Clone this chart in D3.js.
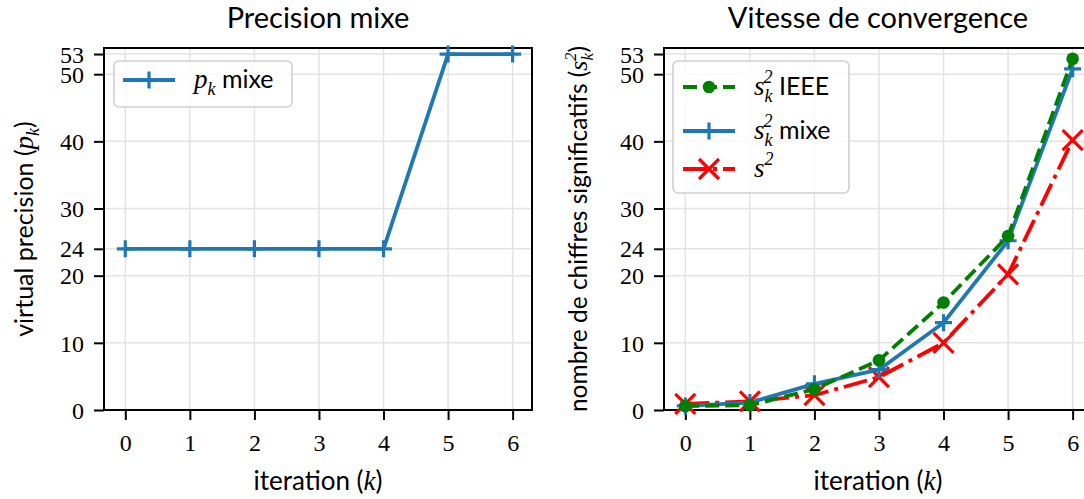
<!DOCTYPE html>
<html>
<head>
<meta charset="utf-8">
<script src="https://cdn.jsdelivr.net/npm/d3@7"></script>
<style>
  body { margin: 0; background: #fff; }
  svg { display: block; }
  .tick text { font-family: "Liberation Serif", "DejaVu Serif", serif; font-size: 24px; fill: #000; }
  .sans { font-family: "Lato", "Open Sans", sans-serif; }
  .math { font-family: "Liberation Serif", "DejaVu Serif", serif; font-style: italic; }
</style>
</head>
<body>
<svg id="chart" width="1084" height="499"></svg>
<script>
// data
var iterations = [0, 1, 2, 3, 4, 5, 6];
var pkMixe = [24, 24, 24, 24, 24, 53, 53];
var s2IEEE = [0.6, 0.7, 3.1, 7.4, 16.0, 25.9, 52.3];
var s2Mixe = [0.6, 1.1, 3.9, 6.0, 13.0, 25.2, 50.8];
var s2Ref = [0.9, 1.3, 2.2, 4.9, 10.0, 20.2, 40.2];
var yTickValues = [0, 10, 20, 24, 30, 40, 50, 53];

var svg = d3.select("#chart");

var top_ = 48, bottom = 410;
var panelW = 428;
var lw = 3.8;

var y = d3.scaleLinear().domain([0, 53.9]).range([bottom, top_]);

function plusPath(s) { return "M" + (-s) + ",0H" + s + "M0," + (-s) + "V" + s; }
function crossPath(s) { return "M" + (-s) + "," + (-s) + "L" + s + "," + s + "M" + (-s) + "," + s + "L" + s + "," + (-s); }

function drawMarker(g, kind, color) {
  if (kind === "plus") {
    g.append("path").attr("d", plusPath(8.5)).attr("stroke", color).attr("stroke-width", 3.2).attr("fill", "none");
  } else if (kind === "cross") {
    g.append("path").attr("d", crossPath(10)).attr("stroke", color).attr("stroke-width", 3.2).attr("fill", "none");
  } else if (kind === "circle") {
    g.append("circle").attr("r", 6.3).attr("fill", color);
  }
}

function makePanel(left, title) {
  var x = d3.scaleLinear().domain([-0.33, 6.3]).range([left, left + panelW]);
  var g = svg.append("g");

  // grid
  g.append("g").selectAll("line").data(iterations).enter().append("line")
    .attr("x1", function(d) { return x(d); }).attr("x2", function(d) { return x(d); })
    .attr("y1", top_).attr("y2", bottom)
    .attr("stroke", "#e3e3e3").attr("stroke-width", 1.5);
  g.append("g").selectAll("line").data(yTickValues).enter().append("line")
    .attr("x1", left).attr("x2", left + panelW)
    .attr("y1", function(d) { return y(d); }).attr("y2", function(d) { return y(d); })
    .attr("stroke", "#e3e3e3").attr("stroke-width", 1.5);

  // axes
  var xAxis = g.append("g").attr("transform", "translate(0," + bottom + ")")
    .call(d3.axisBottom(x).tickValues(iterations).tickFormat(d3.format("d")).tickSize(10).tickSizeOuter(0));
  var yAxis = g.append("g").attr("transform", "translate(" + left + ",0)")
    .call(d3.axisLeft(y).tickValues(yTickValues).tickFormat(d3.format("d")).tickSize(10).tickPadding(10).tickSizeOuter(0));
  [xAxis, yAxis].forEach(function(a) {
    a.select(".domain").remove();
    a.selectAll(".tick line").attr("stroke", "#000").attr("stroke-width", 2);
  });
  xAxis.selectAll(".tick text").attr("y", 41).attr("dy", 0);
  yAxis.selectAll(".tick text").attr("dy", "0.34em");

  // frame
  g.append("rect").attr("x", left).attr("y", top_).attr("width", panelW).attr("height", bottom - top_)
    .attr("fill", "none").attr("stroke", "#000").attr("stroke-width", 2);

  // title
  g.append("text").attr("class", "sans").attr("x", left + panelW / 2).attr("y", 28)
    .attr("text-anchor", "middle").attr("font-size", 29).text(title);

  // x label
  var xl = g.append("text").attr("class", "sans").attr("x", left + panelW / 2).attr("y", 490)
    .attr("text-anchor", "middle").attr("font-size", 26);
  xl.append("tspan").text("iteration (");
  xl.append("tspan").attr("class", "math").attr("font-size", 27).text("k");
  xl.append("tspan").text(")");

  return { g: g, x: x };
}

function drawSeries(p, values, color, dash, marker) {
  var line = d3.line().x(function(d, i) { return p.x(iterations[i]); }).y(function(d) { return y(d); });
  p.g.append("path").datum(values).attr("d", line)
    .attr("fill", "none").attr("stroke", color).attr("stroke-width", lw)
    .attr("stroke-dasharray", dash).attr("stroke-linejoin", "round");
  values.forEach(function(v, i) {
    var m = p.g.append("g").attr("transform", "translate(" + p.x(iterations[i]) + "," + y(v) + ")");
    drawMarker(m, marker, color);
  });
}

function legendEntry(lg, yy, x0, color, dash, marker, build) {
  lg.append("line").attr("x1", x0).attr("x2", x0 + 52).attr("y1", yy).attr("y2", yy)
    .attr("stroke", color).attr("stroke-width", lw).attr("stroke-dasharray", dash);
  drawMarker(lg.append("g").attr("transform", "translate(" + (x0 + 26) + "," + yy + ")"), marker, color);
  var t = lg.append("text").attr("class", "sans").attr("x", x0 + 71).attr("y", yy + 8).attr("font-size", 25);
  build(t);
}

function sk2(t, rest) {
  t.append("tspan").attr("class", "math").attr("font-size", 27).text("s");
  t.append("tspan").attr("class", "math").attr("font-size", 18).attr("dy", 7).text("k");
  t.append("tspan").attr("class", "math").attr("font-size", 18).attr("dx", -9).attr("dy", -19).text("2");
  t.append("tspan").attr("dy", 12).text(rest);
}

var colBlue = "#1f77b4", colGreen = "#008000", colRed = "#ff0000";
var dashGreen = "14,6", dashRed = "24,6,4,6";

// left panel
var p1 = makePanel(104, "Precision mixe");
drawSeries(p1, pkMixe, colBlue, null, "plus");

var yl1 = p1.g.append("text").attr("class", "sans").attr("font-size", 25)
  .attr("transform", "translate(33," + ((top_ + bottom) / 2) + ") rotate(-90)").attr("text-anchor", "middle");
yl1.append("tspan").text("virtual precision (");
yl1.append("tspan").attr("class", "math").attr("font-size", 27).text("p");
yl1.append("tspan").attr("class", "math").attr("font-size", 18).attr("dy", 6).text("k");
yl1.append("tspan").attr("dy", -6).text(")");

var lg1 = p1.g.append("g");
lg1.append("rect").attr("x", 114).attr("y", 61).attr("width", 178).attr("height", 46).attr("rx", 5)
  .attr("fill", "#fff").attr("fill-opacity", 0.8).attr("stroke", "#d0d0d0").attr("stroke-width", 1.6);
legendEntry(lg1, 80, 123, colBlue, null, "plus", function(t) {
  t.append("tspan").attr("class", "math").attr("font-size", 27).text("p");
  t.append("tspan").attr("class", "math").attr("font-size", 18).attr("dy", 7).text("k");
  t.append("tspan").attr("dy", -7).text(" mixe");
});

// right panel
var p2 = makePanel(664, "Vitesse de convergence");
drawSeries(p2, s2Ref, colRed, dashRed, "cross");
drawSeries(p2, s2Mixe, colBlue, null, "plus");
drawSeries(p2, s2IEEE, colGreen, dashGreen, "circle");

var yl2 = p2.g.append("text").attr("class", "sans").attr("font-size", 24.5)
  .attr("transform", "translate(587," + ((top_ + bottom) / 2) + ") rotate(-90)").attr("text-anchor", "middle");
yl2.append("tspan").text("nombre de chiffres significatifs (");
yl2.append("tspan").attr("class", "math").attr("font-size", 26).text("s");
yl2.append("tspan").attr("class", "math").attr("font-size", 17).attr("dy", 6).text("k");
yl2.append("tspan").attr("class", "math").attr("font-size", 17).attr("dx", -8).attr("dy", -17).text("2");
yl2.append("tspan").attr("dy", 11).text(")");

var lg2 = p2.g.append("g");
lg2.append("rect").attr("x", 673).attr("y", 61).attr("width", 176).attr("height", 132).attr("rx", 5)
  .attr("fill", "#fff").attr("fill-opacity", 0.8).attr("stroke", "#d0d0d0").attr("stroke-width", 1.6);
legendEntry(lg2, 87, 683, colGreen, dashGreen, "circle", function(t) { sk2(t, " IEEE"); });
legendEntry(lg2, 131, 683, colBlue, null, "plus", function(t) { sk2(t, " mixe"); });
legendEntry(lg2, 169, 683, colRed, dashRed, "cross", function(t) {
  t.append("tspan").attr("class", "math").attr("font-size", 27).text("s");
  t.append("tspan").attr("class", "math").attr("font-size", 18).attr("dy", -12).text("2");
});
</script>
</body>
</html>
